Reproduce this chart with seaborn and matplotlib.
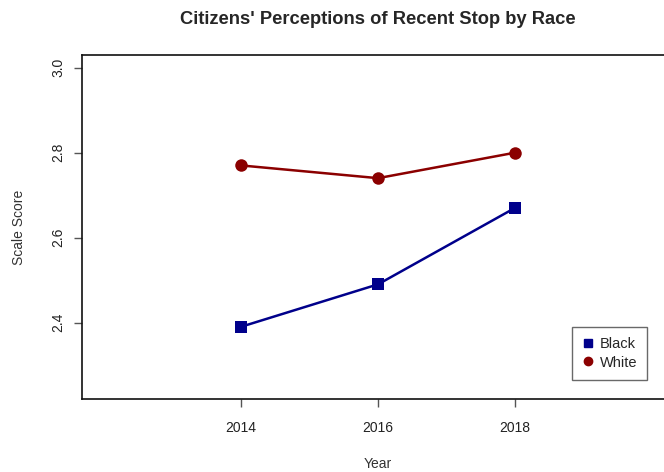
import matplotlib
matplotlib.use("Agg")
import matplotlib.pyplot as plt
from matplotlib.lines import Line2D
import seaborn as sns
import pandas as pd

years = [2014, 2016, 2018]
black_scores = [2.39, 2.49, 2.67]
white_scores = [2.77, 2.74, 2.80]
races = ["Black", "White"]
x_ticks = [2014, 2016, 2018]
y_ticks = [2.4, 2.6, 2.8, 3.0]

df = pd.DataFrame({
    "Year": years * 2,
    "Score": black_scores + white_scores,
    "Race": ["Black"] * len(years) + ["White"] * len(years),
})

sns.set_theme(style="white")
plt.rcParams["font.family"] = ["Liberation Sans", "DejaVu Sans"]

colors = {"Black": "#00008B", "White": "#8B0000"}
markers = {"Black": "s", "White": "o"}

fig = plt.figure(figsize=(6.64, 4.72), dpi=100)
ax = fig.add_axes([82 / 664, 73 / 472, 592 / 664, 344 / 472])

sns.lineplot(data=df, x="Year", y="Score", hue="Race", style="Race",
             palette=colors, markers=markers, dashes=False, markersize=9,
             markeredgewidth=0, linewidth=1.8, legend=False, ax=ax)

ax.set_xlim(2011.68, 2020.32)
ax.set_ylim(2.22, 3.03)
ax.set_xticks(x_ticks)
ax.set_xticklabels([str(t) for t in x_ticks])
ax.set_yticks(y_ticks)
ax.set_yticklabels([f"{t:.1f}" for t in y_ticks], rotation=90, va="center")
ax.tick_params(axis="both", direction="out", length=6, width=1, color="#555555",
               labelsize=10, labelcolor="#222222", bottom=True, left=True)
ax.tick_params(axis="x", pad=10)
ax.tick_params(axis="y", pad=6)

for s in ax.spines.values():
    s.set_color("#111111")
    s.set_linewidth(1.2)

ax.set_xlabel("Year", fontsize=10, color="#333333", labelpad=16)
ax.set_ylabel("Scale Score", fontsize=10, color="#333333", labelpad=18)
ax.set_title("Citizens' Perceptions of Recent Stop by Race", fontsize=13.2,
             fontweight="bold", pad=22)

handles = [Line2D([], [], linestyle="none", marker=markers[r], color=colors[r],
                  markersize=6) for r in races]
leg = fig.legend(handles, races, loc="upper left",
                 bbox_to_anchor=(572 / 664, 1 - 327 / 472), fontsize=10.5,
                 frameon=True, fancybox=False, handlelength=0.8,
                 handletextpad=0.4, borderpad=0.7, labelspacing=0.3,
                 borderaxespad=0)
leg.get_frame().set_edgecolor("#444444")
leg.get_frame().set_linewidth(1)

fig.savefig("out.png", dpi=100)
